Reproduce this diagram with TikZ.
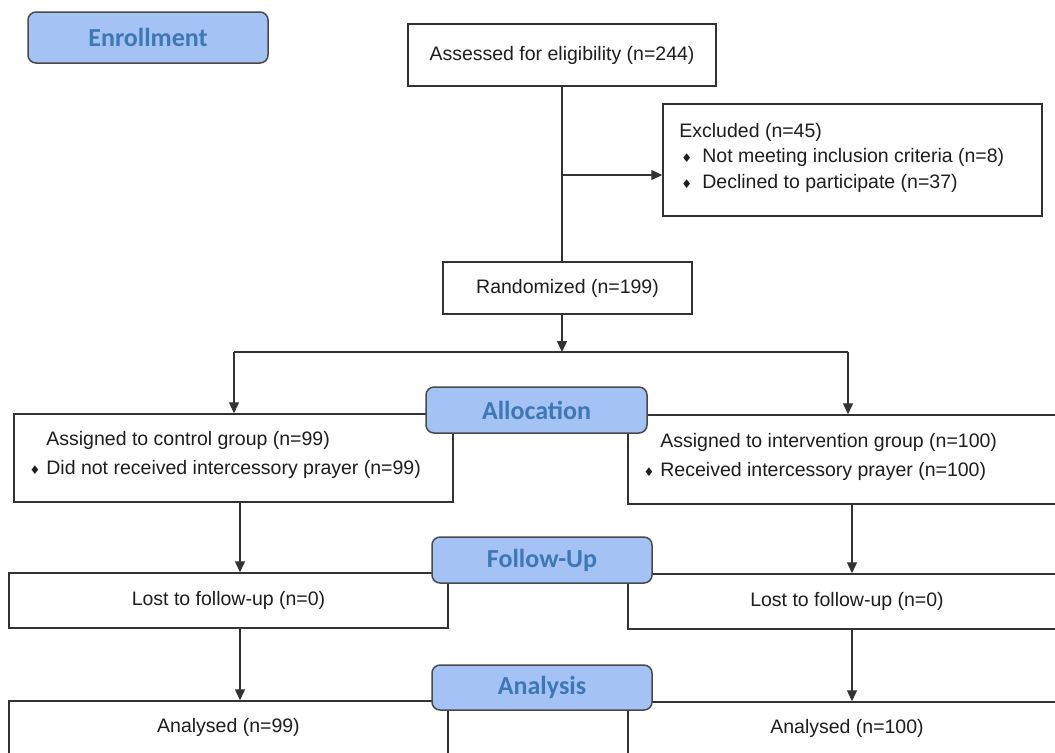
\documentclass[tikz,border=0pt]{standalone}
\usepackage{fontspec}
\setmainfont{Liberation Sans}
\newfontfamily\labelfont{Carlito}
\newfontfamily\symfont{DejaVu Sans}
\usetikzlibrary{arrows.meta}
\definecolor{lblfill}{HTML}{A4C2F4}
\definecolor{lbltext}{HTML}{3D78B5}
\definecolor{lbldraw}{HTML}{4A4A4A}
\definecolor{linec}{HTML}{333333}
\definecolor{txt}{HTML}{1E1E1E}
\newcommand{\bul}{{\symfont\fontsize{6}{6}\selectfont ♦}}
\begin{document}
\begin{tikzpicture}[x=0.5pt,y=-0.5pt,
  box/.style={draw=linec, line width=0.75pt, rectangle, inner sep=0pt,
    font=\fontsize{9.75}{14.5}\selectfont, text=txt},
  lbl/.style={draw=lbldraw, fill=lblfill, line width=0.75pt, rounded corners=4pt,
    font=\labelfont\bfseries\fontsize{13}{15}\selectfont, text=lbltext, inner sep=0pt},
  txtn/.style={font=\fontsize{9.75}{14.5}\selectfont, text=txt, inner sep=0pt, align=left, anchor=west},
  arr/.style={draw=linec, line width=0.7pt, -{Triangle[length=5.5pt,width=5pt]}},
  ln/.style={draw=linec, line width=0.7pt}]
\useasboundingbox (0,0) rectangle (1055,752);
\clip (0,0) rectangle (1055,752);
\fill[white] (0,0) rectangle (1055,752);

% boxes
\node[box, minimum width=154pt, minimum height=31pt] (assess) at (562,55) {Assessed for eligibility (n=244)};
\node[box, minimum width=189.5pt, minimum height=56pt] (excl) at (852.5,160) {};
\node[box, minimum width=124.5pt, minimum height=26pt] (rand) at (567.5,288) {Randomized (n=199)};
\node[box, minimum width=219.5pt, minimum height=44pt] (ctrl) at (233.5,458) {};
\node[box, minimum width=219pt, minimum height=44.5pt] (intv) at (847,459.5) {};
\node[box, minimum width=219.5pt, minimum height=27.5pt] (lostL) at (228.5,600.5) {Lost to follow-up (n=0)};
\node[box, minimum width=219pt, minimum height=27.5pt] (lostR) at (847,601.5) {Lost to follow-up (n=0)};
\node[box, minimum width=219.5pt, minimum height=26.5pt] (anL) at (228.5,727.5) {Analysed (n=99)};
\node[box, minimum width=219pt, minimum height=26pt] (anR) at (847,728) {Analysed (n=100)};

% texts in multi-line boxes
\node[txtn, font=\fontsize{9.75}{12.75}\selectfont] (exclt) at (679,157.5)
  {Excluded (n=45)\\
   \makebox[11.5pt][l]{\hspace{1pt}\bul}Not meeting inclusion criteria (n=8)\\
   \makebox[11.5pt][l]{\hspace{1pt}\bul}Declined to participate (n=37)};
\node[txtn] (ctrlt) at (46,454.5)
  {Assigned to control group (n=99)\\
   \llap{\bul\hspace{3pt}}Did not received intercessory prayer (n=99)};
\node[txtn] (intvt) at (660,456.5)
  {Assigned to intervention group (n=100)\\
   \llap{\bul\hspace{3pt}}Received intercessory prayer (n=100)};

% connectors
\coordinate (jx) at (562,175);
\coordinate (split) at (562,352);
\coordinate (lft) at (234,352);
\coordinate (rgt) at (848,352);
\coordinate (xl) at (240,0);
\coordinate (xr) at (852,0);
\draw[ln] (assess.south) -- (assess.south |- rand.north);
\draw[arr] (jx) -- (jx -| excl.west);
\draw[arr] (assess.south |- rand.south) -- (split);
\draw[ln] (lft) -- (rgt);
\draw[arr] (lft) -- (lft |- ctrl.north);
\draw[arr] (rgt) -- (rgt |- intv.north);
\draw[arr] (ctrl.south -| xl) -- (lostL.north -| xl);
\draw[arr] (intv.south -| xr) -- (lostR.north -| xr);
\draw[arr] (lostL.south -| xl) -- (anL.north -| xl);
\draw[arr] (lostR.south -| xr) -- (anR.north -| xr);

% stage labels
\node[lbl, minimum width=120pt, minimum height=25.5pt] (enr) at (148,37.5) {Enrollment};
\node[lbl, minimum width=110.5pt, minimum height=23pt] (alloc) at (536.5,410) {Allocation};
\node[lbl, minimum width=110pt, minimum height=23pt] (fol) at (542,560) {Follow-Up};
\node[lbl, minimum width=110pt, minimum height=22.5pt] (ana) at (542,687.5) {Analysis};
\end{tikzpicture}
\end{document}
